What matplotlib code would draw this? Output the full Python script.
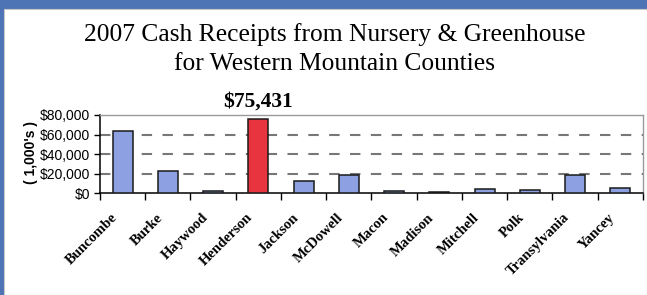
import matplotlib
matplotlib.use("Agg")
from matplotlib import pyplot as plt
from matplotlib.patches import Rectangle
import matplotlib.transforms as mtransforms
import numpy as np

# valeurs (en milliers de $)
counties = ["Buncombe", "Burke", "Haywood", "Henderson", "Jackson", "McDowell",
            "Macon", "Madison", "Mitchell", "Polk", "Transylvania", "Yancey"]
receipts = [64000, 23000, 1800, 75431, 12800, 18300, 1700, 900, 3700, 3500, 18100, 5500]
highlight = "Henderson"
y_ticks = [0, 20000, 40000, 60000, 80000]

W, H = 647, 295
fig = plt.figure(figsize=(W / 100, H / 100), dpi=100)
fig.patch.set_facecolor("#4e74b6")
# panneau blanc
fig.patches.append(Rectangle((4 / W, 0), 1 - 4 / W, 1 - 9 / H, transform=fig.transFigure,
                             facecolor="white", edgecolor="#c8c8c8", lw=0.8, zorder=-5))

ax = fig.add_axes([100 / W, 1 - 193 / H, 543 / W, 78 / H])
ax.set_zorder(2)
ax.set_facecolor("white")

x = np.arange(len(counties))
colors = ["#e8343f" if c == highlight else "#8ca0e2" for c in counties]
ax.bar(x, receipts, width=0.44, color=colors, edgecolor="#1a1a1a", linewidth=1.1, zorder=3)

ax.set_xlim(-0.5, len(counties) - 0.5)
ax.set_ylim(0, 80000)

# grille pointillee
for v in y_ticks[1:-1]:
    ax.axhline(v, color="#777777", lw=1.5, ls=(0, (5, 5)), zorder=1)

ax.set_yticks(y_ticks)
ax.set_yticklabels(["${:,}".format(v) for v in y_ticks], fontsize=10, family="Liberation Sans")
ax.tick_params(axis="y", direction="out", length=4, width=1, pad=3)

# ticks entre les categories, etiquettes au centre
ax.set_xticks(np.arange(-0.5, len(counties), 1.0))
ax.set_xticklabels([])
ax.tick_params(axis="x", which="major", direction="out", length=5, width=1)
ax.set_xticks(x, minor=True)
ax.set_xticklabels(counties, minor=True, rotation=45, ha="right", va="top",
                   rotation_mode="anchor", fontsize=10.5, fontweight="bold",
                   family="Liberation Serif")
ax.tick_params(axis="x", which="minor", length=0, pad=0)
offset = mtransforms.ScaledTranslation(-0.12, -0.18, fig.dpi_scale_trans)
for lab in ax.get_xticklabels(minor=True):
    lab.set_transform(lab.get_transform() + offset)

for s in ["left", "bottom"]:
    ax.spines[s].set_color("black")
    ax.spines[s].set_linewidth(1.1)
for s in ["top", "right"]:
    ax.spines[s].set_color("#9a9a9a")
    ax.spines[s].set_linewidth(1.0)

# valeur de Henderson
i = counties.index(highlight)
ax.text(i, receipts[i] + 13000, "${:,}".format(receipts[i]), ha="center", va="baseline",
        fontsize=15.5, fontweight="bold", family="Liberation Serif")

fig.text(31 / W, 1 - 152 / H, "( 1,000's )", rotation=90, ha="center", va="center",
         fontsize=10, fontweight="bold", family="Liberation Sans")

fig.text(335 / W, 1 - 41 / H, "2007 Cash Receipts from Nursery & Greenhouse",
         ha="center", va="baseline", fontsize=18.4, family="Liberation Serif")
fig.text(335 / W, 1 - 70 / H, "for Western Mountain Counties",
         ha="center", va="baseline", fontsize=18.4, family="Liberation Serif")

fig.savefig("out.png", dpi=100, facecolor=fig.get_facecolor())
